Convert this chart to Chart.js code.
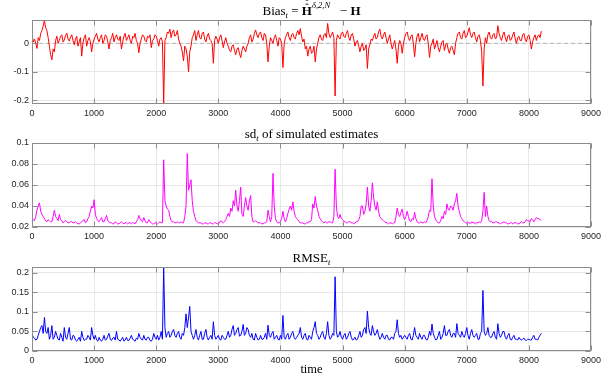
<!DOCTYPE html>
<html>
<head>
<meta charset="utf-8">
<script src="https://cdn.jsdelivr.net/npm/chart.js"></script>
<style>
html,body{margin:0;padding:0;background:#fff;}
#wrap{position:relative;width:608px;height:379px;overflow:hidden;background:#fff;}
#wrap canvas{position:absolute;left:0;top:0;}
.ttl{position:absolute;left:311.5px;transform:translateX(-50%);font-family:"Liberation Serif","DejaVu Serif",serif;font-size:13px;line-height:13px;white-space:nowrap;color:#000;}
.ttl sub{font-size:8.5px;line-height:0;vertical-align:-3px;font-style:italic;}
.ttl sup{font-size:8.5px;line-height:0;vertical-align:7px;font-style:italic;}
.hh{position:relative;display:inline-block;}
.hh .h1{position:absolute;left:0;width:100%;text-align:center;top:-3px;font-size:10px;font-weight:bold;}
.hh .h2{position:absolute;left:0;width:100%;text-align:center;top:-7px;font-size:8px;font-weight:bold;}
</style>
</head>
<body>
<div id="wrap">
<canvas id="c1" width="608" height="379"></canvas>
<canvas id="c2" width="608" height="379"></canvas>
<canvas id="c3" width="608" height="379"></canvas>
<div class="ttl" style="top:4px">Bias<sub>t</sub> = <span class="hh"><b>H</b><span class="h1">ˆ</span><span class="h2">ˆ</span></span><sup>δ,2,N</sup>&nbsp;&nbsp;&nbsp;− <b>H</b></div>
<div class="ttl" style="top:127px">sd<sub>t</sub> of simulated estimates</div>
<div class="ttl" style="top:251px">RMSE<sub>t</sub></div>
</div>
<script>
// time stamps (sampled every 20 steps)
const times = [
0,20,40,60,80,100,120,140,160,180,200,220,240,260,280,300,320,340,360,380,400,420,440,460,480,500,520,540,560,580,600,620,640,660,680,700,720,740,760,780,800,820,840,860,880,900,920,940,960,980,
1000,1020,1040,1060,1080,1100,1120,1140,1160,1180,1200,1220,1240,1260,1280,1300,1320,1340,1360,1380,1400,1420,1440,1460,1480,1500,1520,1540,1560,1580,1600,1620,1640,1660,1680,1700,1720,1740,1760,1780,1800,1820,1840,1860,1880,1900,1920,1940,1960,1980,
2000,2020,2040,2060,2080,2100,2120,2140,2160,2180,2200,2220,2240,2260,2280,2300,2320,2340,2360,2380,2400,2420,2440,2460,2480,2500,2520,2540,2560,2580,2600,2620,2640,2660,2680,2700,2720,2740,2760,2780,2800,2820,2840,2860,2880,2900,2920,2940,2960,2980,
3000,3020,3040,3060,3080,3100,3120,3140,3160,3180,3200,3220,3240,3260,3280,3300,3320,3340,3360,3380,3400,3420,3440,3460,3480,3500,3520,3540,3560,3580,3600,3620,3640,3660,3680,3700,3720,3740,3760,3780,3800,3820,3840,3860,3880,3900,3920,3940,3960,3980,
4000,4020,4040,4060,4080,4100,4120,4140,4160,4180,4200,4220,4240,4260,4280,4300,4320,4340,4360,4380,4400,4420,4440,4460,4480,4500,4520,4540,4560,4580,4600,4620,4640,4660,4680,4700,4720,4740,4760,4780,4800,4820,4840,4860,4880,4900,4920,4940,4960,4980,
5000,5020,5040,5060,5080,5100,5120,5140,5160,5180,5200,5220,5240,5260,5280,5300,5320,5340,5360,5380,5400,5420,5440,5460,5480,5500,5520,5540,5560,5580,5600,5620,5640,5660,5680,5700,5720,5740,5760,5780,5800,5820,5840,5860,5880,5900,5920,5940,5960,5980,
6000,6020,6040,6060,6080,6100,6120,6140,6160,6180,6200,6220,6240,6260,6280,6300,6320,6340,6360,6380,6400,6420,6440,6460,6480,6500,6520,6540,6560,6580,6600,6620,6640,6660,6680,6700,6720,6740,6760,6780,6800,6820,6840,6860,6880,6900,6920,6940,6960,6980,
7000,7020,7040,7060,7080,7100,7120,7140,7160,7180,7200,7220,7240,7260,7280,7300,7320,7340,7360,7380,7400,7420,7440,7460,7480,7500,7520,7540,7560,7580,7600,7620,7640,7660,7680,7700,7720,7740,7760,7780,7800,7820,7840,7860,7880,7900,7920,7940,7960,7980,
8000,8020,8040,8060,8080,8100,8120,8140,8160,8180,8200
];
const biasValues = [
.03,.005,.015,.0,-.018,.02,.01,.035,.045,.06,.082,.055,.045,.02,-.01,-.04,-.058,-.02,-.03,.01,.025,.0,.01,.025,.03,.005,.012,.028,.036,.015,.008,.022,.03,.01,-.005,.015,.025,-.01,.005,.02,-.045,.0,.02,.03,-.01,.01,.02,.005,-.03,.0,
.015,.025,.035,.015,.005,.02,.03,.0,.01,.03,.025,.005,-.02,.01,.02,.035,.005,.02,.03,.015,.01,.025,-.02,.005,.025,.035,.01,.02,.03,.01,.0,.025,.02,.035,.01,.0,-.033,.0,.015,.03,.025,.01,.005,.025,.02,.03,-.015,.01,.015,.03,
.025,.01,-.01,.015,.02,.005,-.213,.01,.02,.04,.035,.05,.02,.04,.047,.025,.03,.045,.015,.0,-.01,-.03,-.062,-.01,-.02,-.045,-.1,-.03,-.01,.02,.03,.045,.01,.03,.045,.02,.015,.035,.04,.015,.005,.025,.035,.015,.01,.0,-.07,.01,.025,.015,
.0,.02,.03,.01,-.015,.005,.02,.0,-.01,-.025,-.03,-.01,-.005,-.025,-.04,-.02,-.015,-.035,-.05,-.025,-.01,-.02,-.03,-.01,.0,.02,.03,.005,.015,.035,.047,.03,.02,.035,.04,.02,.01,.035,.03,.0,-.065,-.01,.02,.01,.0,.02,.03,.01,-.01,.02,
.015,.0,-.085,.0,.02,.03,.04,.02,.01,.03,.035,.02,.015,.035,.045,.03,.052,.025,.005,.015,-.02,-.01,-.045,-.02,-.01,-.035,-.03,-.01,-.065,-.02,.0,.02,.03,.015,.01,.03,.035,.02,.07,.035,.02,.03,.04,.02,-.185,.01,.03,.02,.015,.035,
.04,.025,.02,.035,.045,.02,.01,.03,.035,.015,-.01,.005,.01,-.01,-.03,-.01,.0,-.025,-.02,-.005,-.088,-.02,-.005,.015,.01,.025,.035,.015,.02,.04,.05,.025,.015,.03,.04,.02,.0,.015,.03,.0,-.02,-.005,.01,-.02,-.07,-.01,.01,.0,-.035,.0,
.02,.035,.04,.02,.01,.025,.03,.0,-.047,.0,.025,.035,.005,.02,.035,.015,.01,.025,.03,.0,-.05,-.01,.0,.015,-.02,-.005,.01,-.015,-.03,-.01,.005,.01,-.025,-.005,.0,-.02,-.035,-.015,-.01,-.025,-.04,.0,.02,.035,.04,.02,.015,.035,.045,.02,
.025,.04,.055,.03,.02,.035,.04,.02,.005,.025,.03,.01,-.03,-.15,-.02,.02,.0,.03,.04,.02,.015,.03,.035,.015,.02,.062,.035,.02,.01,.03,.04,.02,.005,.025,.03,.01,.015,.03,.04,.015,.0,.02,.025,.01,.01,.03,.035,.015,.005,.025,
.03,.01,-.02,.005,.02,.03,.01,.025,.03,.02,.043
];
const sdValues = [
.028,.027,.026,.03,.036,.04,.043,.035,.032,.03,.028,.026,.025,.027,.026,.025,.025,.03,.036,.03,.028,.026,.032,.027,.026,.024,.025,.026,.025,.024,.024,.025,.025,.024,.024,.025,.024,.023,.023,.024,.025,.026,.027,.024,.025,.028,.03,.035,.04,.038,
.046,.032,.028,.026,.025,.027,.029,.025,.025,.028,.031,.026,.025,.024,.024,.023,.023,.025,.024,.023,.023,.024,.025,.024,.023,.024,.024,.023,.024,.024,.023,.024,.024,.023,.025,.027,.031,.028,.026,.025,.029,.026,.024,.024,.027,.025,.024,.023,.023,.024,
.024,.023,.024,.025,.024,.024,.084,.045,.04,.037,.036,.03,.026,.025,.025,.024,.024,.025,.024,.024,.025,.024,.024,.03,.04,.09,.055,.06,.065,.045,.035,.03,.026,.025,.024,.024,.024,.023,.023,.024,.024,.023,.023,.024,.024,.023,.023,.024,.024,.023,
.023,.024,.026,.025,.024,.025,.027,.03,.033,.03,.038,.035,.045,.04,.055,.04,.035,.045,.058,.032,.03,.04,.048,.04,.036,.045,.05,.03,.025,.025,.026,.025,.024,.024,.024,.023,.023,.024,.024,.025,.036,.03,.025,.03,.071,.04,.028,.025,.024,.024,
.025,.028,.035,.028,.025,.028,.033,.037,.04,.036,.044,.035,.03,.028,.027,.025,.024,.024,.024,.023,.023,.024,.024,.025,.025,.027,.042,.038,.049,.04,.036,.03,.028,.026,.025,.024,.025,.024,.024,.025,.025,.024,.024,.03,.075,.04,.03,.028,.032,.028,
.027,.026,.025,.024,.024,.025,.025,.024,.024,.023,.024,.025,.025,.027,.03,.04,.04,.032,.035,.042,.058,.04,.035,.045,.062,.048,.04,.036,.044,.035,.03,.028,.027,.026,.025,.024,.024,.023,.024,.024,.023,.024,.024,.03,.038,.032,.03,.034,.037,.03,
.027,.03,.035,.03,.026,.025,.028,.027,.034,.028,.025,.024,.024,.025,.024,.024,.025,.024,.026,.03,.036,.035,.066,.04,.03,.027,.025,.024,.024,.026,.03,.028,.035,.032,.042,.037,.036,.04,.039,.036,.042,.045,.052,.04,.035,.03,.028,.026,.025,.024,
.024,.024,.024,.023,.025,.024,.024,.023,.024,.024,.025,.024,.026,.035,.053,.03,.04,.03,.026,.025,.025,.024,.024,.025,.025,.024,.024,.023,.024,.024,.025,.024,.024,.023,.023,.024,.024,.023,.024,.024,.024,.023,.023,.024,.025,.024,.024,.025,.027,.026,
.026,.025,.028,.027,.025,.027,.029,.028,.028,.027,.026
];
const rmseValues = [
.045,.035,.033,.028,.03,.04,.05,.06,.065,.045,.086,.05,.045,.06,.03,.04,.065,.03,.035,.05,.04,.03,.028,.045,.035,.025,.06,.035,.03,.045,.06,.03,.028,.04,.038,.028,.025,.03,.035,.025,.05,.035,.027,.03,.03,.04,.035,.028,.06,.04,
.03,.04,.028,.025,.035,.028,.025,.03,.04,.028,.03,.038,.045,.03,.027,.033,.035,.028,.05,.03,.028,.025,.03,.035,.025,.028,.035,.027,.027,.033,.04,.03,.028,.025,.033,.03,.045,.035,.03,.028,.04,.03,.028,.035,.035,.027,.025,.03,.045,.035,
.03,.04,.028,.035,.05,.03,.215,.06,.035,.045,.05,.035,.04,.05,.055,.04,.035,.045,.05,.035,.03,.045,.04,.06,.095,.06,.085,.114,.05,.04,.03,.04,.055,.035,.028,.04,.05,.03,.03,.045,.055,.035,.028,.035,.04,.03,.075,.04,.03,.035,
.04,.03,.028,.04,.035,.03,.03,.04,.05,.035,.04,.055,.065,.04,.045,.055,.06,.038,.04,.05,.068,.04,.045,.06,.055,.04,.035,.045,.03,.028,.045,.035,.028,.03,.04,.03,.03,.035,.045,.03,.066,.04,.035,.045,.05,.03,.035,.04,.03,.028,
.04,.03,.091,.035,.03,.04,.045,.03,.035,.045,.05,.035,.03,.035,.04,.045,.06,.035,.03,.04,.045,.03,.028,.04,.035,.03,.05,.06,.075,.045,.04,.03,.035,.045,.05,.035,.03,.045,.075,.04,.03,.035,.045,.04,.19,.05,.035,.04,.05,.035,
.03,.04,.045,.03,.035,.045,.05,.035,.028,.03,.035,.028,.03,.04,.05,.035,.04,.055,.06,.045,.102,.06,.045,.04,.065,.05,.04,.045,.055,.04,.03,.035,.045,.035,.03,.04,.04,.03,.028,.035,.035,.03,.045,.05,.08,.045,.035,.04,.03,.035,
.04,.035,.03,.04,.045,.03,.028,.04,.06,.04,.035,.03,.045,.035,.03,.04,.04,.03,.028,.035,.05,.04,.069,.045,.035,.028,.03,.04,.05,.03,.035,.045,.065,.04,.04,.05,.055,.04,.035,.045,.045,.035,.07,.045,.04,.035,.05,.04,.035,.045,
.06,.04,.03,.045,.055,.04,.035,.04,.045,.03,.03,.045,.05,.155,.05,.04,.045,.06,.04,.035,.035,.045,.05,.035,.03,.07,.045,.035,.04,.05,.05,.035,.03,.04,.045,.03,.028,.035,.04,.03,.03,.028,.035,.03,.028,.03,.033,.028,.027,.03,
.03,.028,.028,.035,.04,.03,.03,.028,.035,.04,.045
];
// axis ticks
const xTicks = [0,1000,2000,3000,4000,5000,6000,7000,8000,9000];
const xTickLabels = ['0','1000','2000','3000','4000','5000','6000','7000','8000','9000'];
const biasTicks = [-0.2,-0.1,0];
const biasTickLabels = ['-0.2','-0.1','0'];
const sdTicks = [0.02,0.04,0.06,0.08,0.1];
const sdTickLabels = ['0.02','0.04','0.06','0.08','0.1'];
const rmseTicks = [0,0.05,0.1,0.15,0.2];
const rmseTickLabels = ['0','0.05','0.1','0.15','0.2'];
const zeroLine = [0,0];
const zeroLineX = [0,9000];

const boxPlugin = {
  id:'box',
  afterDraw(chart){
    const {ctx, chartArea:a, scales} = chart;
    const x = scales.x, y = scales.y;
    ctx.save();
    ctx.strokeStyle = '#8c8c8c';
    ctx.lineWidth = 1;
    const L = Math.round(a.left)+0.5, R = Math.round(a.right)-0.5, T = Math.round(a.top)+0.5, B = Math.round(a.bottom)-0.5;
    ctx.strokeRect(L, T, R-L, B-T);
    ctx.beginPath();
    const tl = 5;
    x.ticks.forEach(t=>{const px=Math.round(x.getPixelForValue(t.value))+0.5; ctx.moveTo(px,B); ctx.lineTo(px,B-tl); ctx.moveTo(px,T); ctx.lineTo(px,T+tl);});
    y.ticks.forEach(t=>{const py=Math.round(y.getPixelForValue(t.value))+0.5; ctx.moveTo(L,py); ctx.lineTo(L+tl,py); ctx.moveTo(R,py); ctx.lineTo(R-tl,py);});
    ctx.stroke();
    ctx.restore();
  }
};

const tickFont = {family:'"Liberation Sans", Arial, sans-serif', size:9};
const tickColor = '#262626';
const gridColor = '#e8e8e8';

function makeChart(id, values, color, yMin, yMax, yT, yL, padTop, padBottom, xH, extra, xTitle){
  const datasets = [{
    data: times.map((t,i)=>({x:t, y:values[i]})),
    borderColor: color, borderWidth: 1, pointRadius: 0, tension: 0, fill:false
  }];
  if (extra) datasets.push(extra);
  return new Chart(document.getElementById(id), {
    type:'line',
    data:{datasets},
    plugins:[boxPlugin],
    options:{
      responsive:false, animation:false, events:[],
      layout:{padding:{left:0,right:17,top:padTop,bottom:padBottom}},
      plugins:{legend:{display:false}, tooltip:{enabled:false}, title:{display:false}},
      scales:{
        x:{type:'linear', min:0, max:9000,
           afterFit(s){ s.height = xH; },
           afterBuildTicks(s){ s.ticks = xTicks.map(v=>({value:v})); },
           ticks:{autoSkip:false, maxRotation:0, padding:4, font:tickFont, color:tickColor,
                  callback:(v,i)=>xTickLabels[i]},
           grid:{color:gridColor, drawTicks:false, lineWidth:1},
           border:{display:false},
           title: xTitle ? {display:true, text:xTitle, color:'#000',
                   font:{family:'"Liberation Serif","DejaVu Serif",serif', size:12.5},
                   padding:{top:0,bottom:2}} : {display:false}
        },
        y:{type:'linear', min:yMin, max:yMax,
           afterFit(s){ s.width = 32; },
           afterBuildTicks(s){ s.ticks = yT.map(v=>({value:v})); },
           ticks:{autoSkip:false, padding:3, font:tickFont, color:tickColor,
                  callback:(v,i)=>yL[i]},
           grid:{color:gridColor, drawTicks:false, lineWidth:1},
           border:{display:false}
        }
      }
    }
  });
}

makeChart('c1', biasValues, '#ff0000', -0.213, 0.082, biasTicks, biasTickLabels, 20, 259, 16,
  {data: zeroLineX.map((t,i)=>({x:t,y:zeroLine[i]})), borderColor:'#b4b4b4', borderWidth:1, borderDash:[4,3], pointRadius:0}, null);
makeChart('c2', sdValues, '#ff00ff', 0.02, 0.1, sdTicks, sdTickLabels, 143, 136, 16, null, null);
makeChart('c3', rmseValues, '#0000ff', 0, 0.215, rmseTicks, rmseTickLabels, 267, 0, 28, null, 'time');
</script>
</body>
</html>
